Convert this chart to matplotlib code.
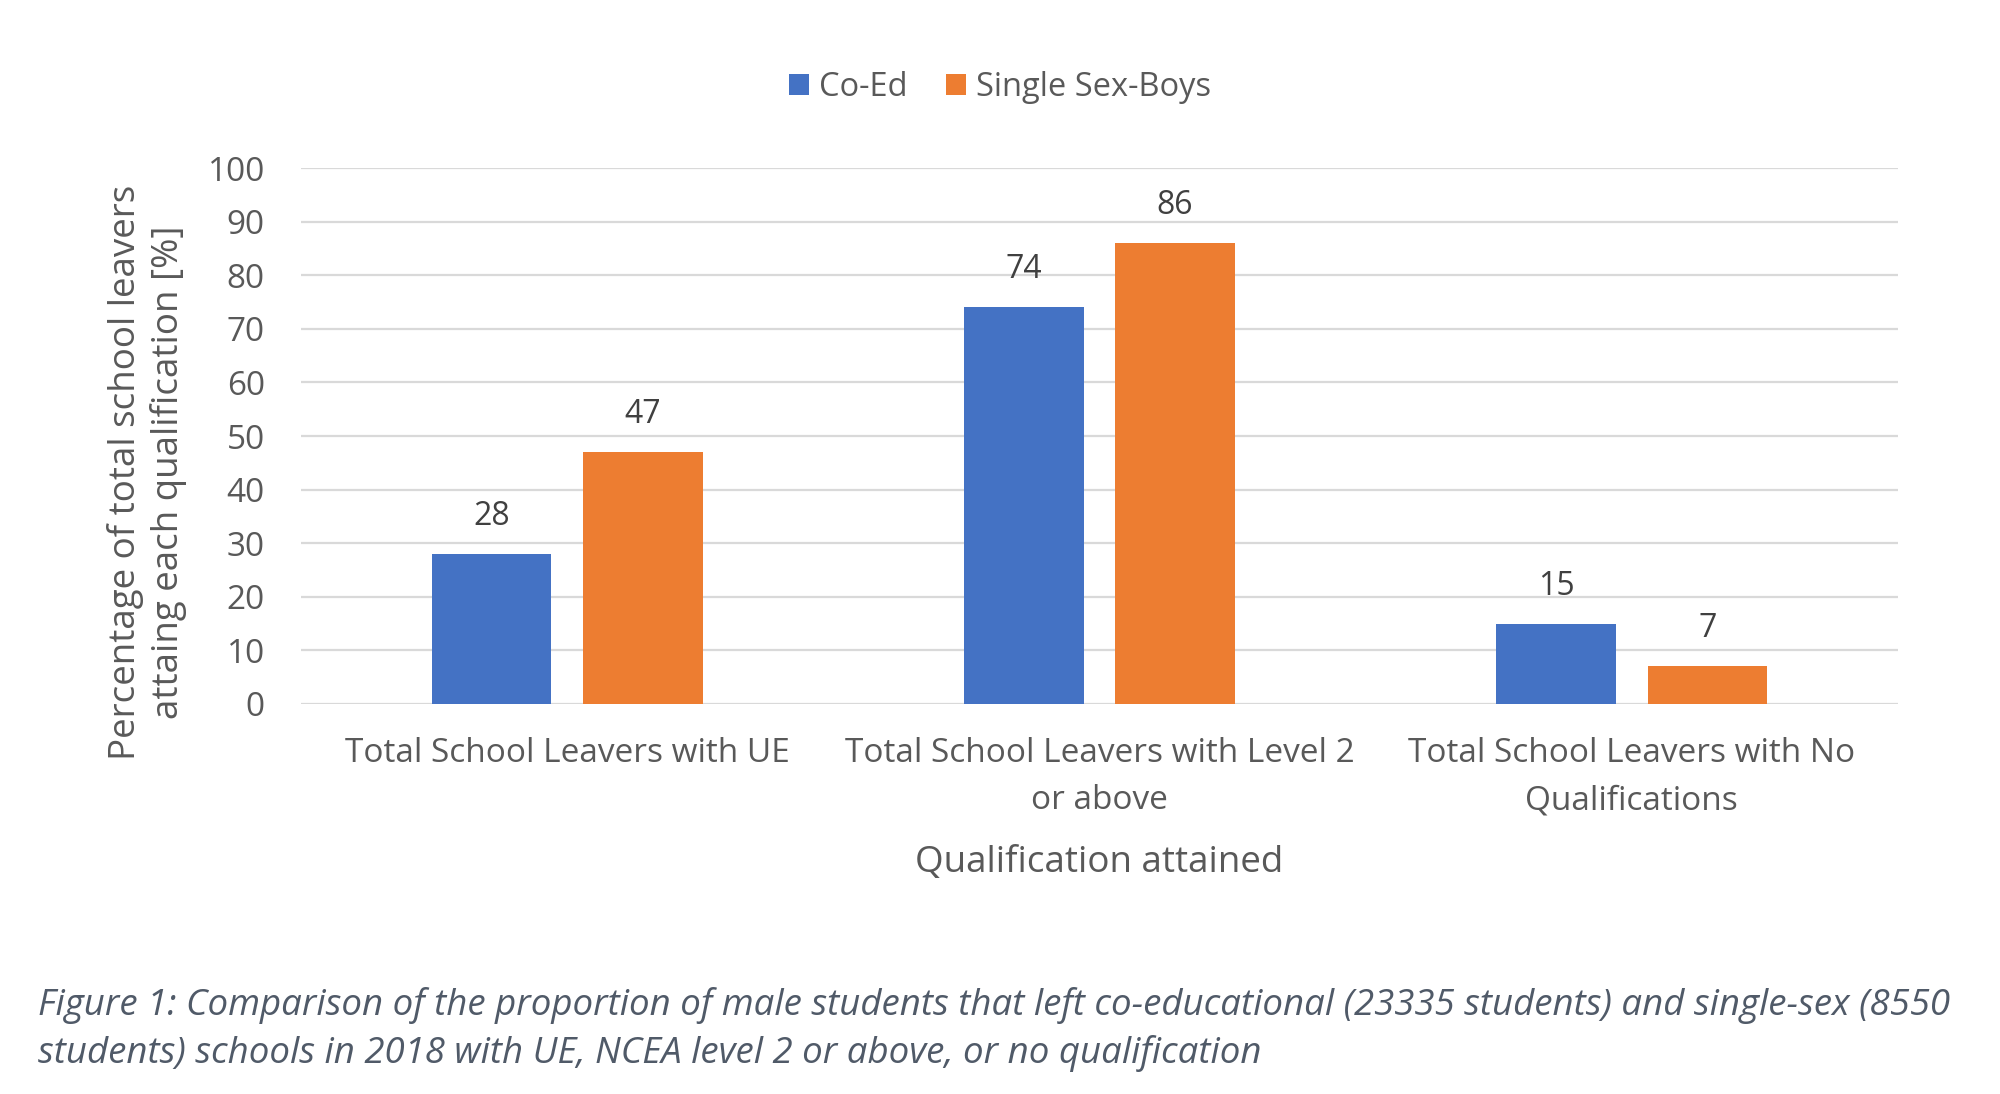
import matplotlib.pyplot as plt
import numpy as np

plt.rcParams['font.family'] = ['Open Sans', 'DejaVu Sans']

# Chart data
categories = ["Total School Leavers with UE",
              "Total School Leavers with Level 2\nor above",
              "Total School Leavers with No\nQualifications"]
series_names = ["Co-Ed", "Single Sex-Boys"]
coed = [28, 74, 15]
single_sex_boys = [47, 86, 7]
y_ticks = [0, 10, 20, 30, 40, 50, 60, 70, 80, 90, 100]

BLUE = "#4472C4"
ORANGE = "#ED7D31"
TICK_GREY = "#595959"

fig = plt.figure(figsize=(20, 10.94), dpi=100)
ax = fig.add_axes([0.1505, 0.3565, 0.7985, 0.4899])

x = np.arange(len(categories))
width = 0.225
offset = 0.142
bars1 = ax.bar(x - offset, coed, width, color=BLUE, label=series_names[0], zorder=3)
bars2 = ax.bar(x + offset, single_sex_boys, width, color=ORANGE, label=series_names[1], zorder=3)

# Data labels above the bars
for bars, vals in [(bars1, coed), (bars2, single_sex_boys)]:
    for b, v in zip(bars, vals):
        ax.annotate(f"{v}", (b.get_x() + b.get_width() / 2, v),
                    xytext=(0, 27), textcoords="offset points",
                    ha="center", va="center", fontsize=23, color="#404040")

ax.set_xlim(-0.5, 2.5)
ax.set_ylim(0, 100)
ax.set_yticks(y_ticks)
ax.set_xticks(x)
ax.set_xticklabels(categories, fontsize=24, color=TICK_GREY, linespacing=1.55)
ax.tick_params(axis="y", labelsize=24, labelcolor=TICK_GREY, length=0, pad=26)
ax.tick_params(axis="x", length=0, pad=24)
ax.grid(axis="y", color="#D9D9D9", linewidth=1.6, zorder=0)
for s in ax.spines.values():
    s.set_visible(False)

ax.set_xlabel("Qualification attained", fontsize=26.5, color=TICK_GREY, labelpad=20)

fig.text(0.0735, 0.568, "Percentage of total school leavers\nattaing each qualification [%]",
         rotation=90, ha="center", va="center", fontsize=26.5, color=TICK_GREY,
         multialignment="center", linespacing=1.2)

fig.legend(loc="center", bbox_to_anchor=(0.5, 0.92), ncol=2, frameon=False,
           fontsize=23.5, labelcolor=TICK_GREY, handlelength=0.6, handleheight=0.6,
           handletextpad=0.3, columnspacing=1.2)

CAPTION_GREY = "#505A68"
fig.text(0.019, 0.081,
         "Figure 1: Comparison of the proportion of male students that left co-educational (23335 students) and single-sex (8550",
         ha="left", va="center", fontsize=26.4, style="italic", color=CAPTION_GREY)
fig.text(0.019, 0.037,
         "students) schools in 2018 with UE, NCEA level 2 or above, or no qualification",
         ha="left", va="center", fontsize=26.4, style="italic", color=CAPTION_GREY)

fig.savefig("out.png", dpi=100, facecolor="white")
